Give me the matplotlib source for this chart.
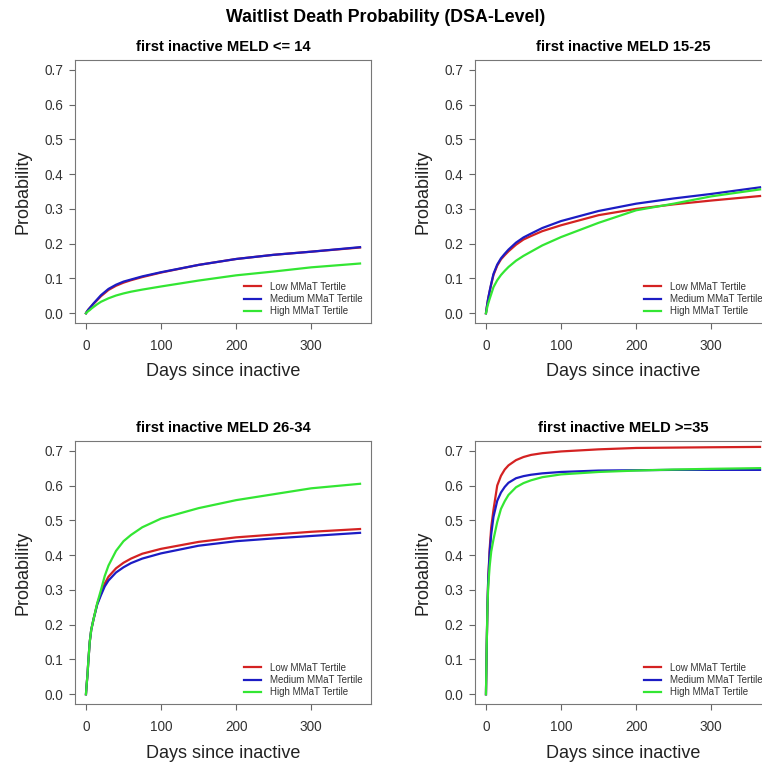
import numpy as np
import matplotlib
matplotlib.use('Agg')
import matplotlib.pyplot as plt

plt.rcParams['font.family'] = ['Liberation Sans', 'DejaVu Sans']

# --- dati (giorni, probabilità cumulata) ---
days = [0, 1, 2, 3, 5, 7, 10, 15, 20, 25, 30, 40, 50, 60, 75, 100, 150, 200, 250, 300, 365]

meld14_low  = [0, 0.004, 0.007, 0.010, 0.015, 0.020, 0.027, 0.038, 0.049, 0.058, 0.067, 0.079, 0.088, 0.095, 0.104, 0.117, 0.139, 0.156, 0.168, 0.177, 0.189]
meld14_med  = [0, 0.004, 0.007, 0.010, 0.015, 0.020, 0.028, 0.040, 0.052, 0.061, 0.070, 0.082, 0.091, 0.097, 0.106, 0.118, 0.139, 0.156, 0.168, 0.177, 0.190]
meld14_high = [0, 0.002, 0.004, 0.006, 0.009, 0.013, 0.018, 0.026, 0.033, 0.038, 0.043, 0.051, 0.057, 0.062, 0.068, 0.077, 0.094, 0.109, 0.120, 0.132, 0.143]

meld15_low  = [0, 0.016, 0.030, 0.043, 0.063, 0.083, 0.110, 0.137, 0.155, 0.167, 0.178, 0.197, 0.212, 0.222, 0.236, 0.253, 0.282, 0.300, 0.313, 0.324, 0.337]
meld15_med  = [0, 0.016, 0.030, 0.043, 0.065, 0.085, 0.113, 0.140, 0.158, 0.171, 0.183, 0.203, 0.218, 0.229, 0.245, 0.265, 0.294, 0.315, 0.330, 0.343, 0.362]
meld15_high = [0, 0.010, 0.020, 0.028, 0.042, 0.055, 0.075, 0.095, 0.110, 0.122, 0.133, 0.151, 0.165, 0.177, 0.195, 0.219, 0.260, 0.296, 0.315, 0.336, 0.356]

meld26_low  = [0, 0.030, 0.055, 0.090, 0.150, 0.185, 0.215, 0.260, 0.290, 0.318, 0.338, 0.362, 0.378, 0.390, 0.404, 0.418, 0.438, 0.451, 0.459, 0.467, 0.475]
meld26_med  = [0, 0.030, 0.055, 0.090, 0.150, 0.185, 0.215, 0.258, 0.285, 0.310, 0.327, 0.350, 0.365, 0.377, 0.390, 0.405, 0.427, 0.440, 0.448, 0.455, 0.464]
meld26_high = [0, 0.030, 0.055, 0.090, 0.150, 0.185, 0.215, 0.262, 0.300, 0.340, 0.370, 0.412, 0.440, 0.458, 0.480, 0.505, 0.535, 0.558, 0.575, 0.592, 0.605]

meld35_low  = [0, 0.14, 0.25, 0.33, 0.42, 0.48, 0.53, 0.600, 0.628, 0.646, 0.658, 0.673, 0.682, 0.688, 0.693, 0.698, 0.704, 0.708, 0.709, 0.710, 0.711]
meld35_med  = [0, 0.14, 0.26, 0.33, 0.41, 0.46, 0.51, 0.556, 0.580, 0.596, 0.608, 0.621, 0.627, 0.631, 0.635, 0.639, 0.643, 0.644, 0.645, 0.645, 0.645]
meld35_high = [0, 0.14, 0.25, 0.31, 0.37, 0.41, 0.445, 0.495, 0.533, 0.555, 0.573, 0.595, 0.607, 0.615, 0.624, 0.632, 0.639, 0.643, 0.646, 0.648, 0.650]

titoli = ['first inactive MELD <= 14', 'first inactive MELD 15-25',
          'first inactive MELD 26-34', 'first inactive MELD >=35']
serie = [(meld14_low, meld14_med, meld14_high),
         (meld15_low, meld15_med, meld15_high),
         (meld26_low, meld26_med, meld26_high),
         (meld35_low, meld35_med, meld35_high)]
etichette = ['Low MMaT Tertile', 'Medium MMaT Tertile', 'High MMaT Tertile']
colori = ['#d42222', '#1c1cc4', '#33e633']

# posizioni dei pannelli (in pixel), colonna destra tagliata come nell'originale
W, H = 762, 764
pos = [(75, 60), (475, 60), (75, 441), (475, 441)]
aw, ah = 296, 263

fig = plt.figure(figsize=(W / 100, H / 100), dpi=100)
fig.text(386 / W, 1 - 18 / H, 'Waitlist Death Probability (DSA-Level)',
         ha='center', va='center', fontsize=12.8, fontweight='bold')

for i, (titolo, (lo, me, hi)) in enumerate(zip(titoli, serie)):
    x0, y0 = pos[i]
    ax = fig.add_axes([x0 / W, 1 - (y0 + ah) / H, aw / W, ah / H])
    for vals, lab, c in zip((lo, me, hi), etichette, colori):
        ax.plot(days, vals, color=c, lw=1.6, label=lab)

    ax.set_xlim(-14.6, 379.6)
    ax.set_ylim(-0.028, 0.728)
    ax.set_xticks([0, 100, 200, 300])
    ax.set_yticks(np.arange(0, 0.75, 0.1))
    ax.set_yticklabels([f'{v:.1f}' for v in np.arange(0, 0.75, 0.1)])
    for s in ax.spines.values():
        s.set_color('#777777')
        s.set_linewidth(0.8)
    ax.tick_params(direction='out', length=4.2, width=0.8, color='#666666',
                   labelsize=9.8, labelcolor='#333333')
    ax.tick_params(axis='x', pad=7)
    ax.tick_params(axis='y', pad=4)

    ax.set_ylabel('Probability', fontsize=13, color='#222222', va='center')
    ax.yaxis.set_label_coords(-52 / aw, 0.5)
    ax.set_xlabel('Days since inactive', fontsize=13, color='#222222', va='center')
    ax.xaxis.set_label_coords(0.5, -49 / ah)
    ax.text(0.5, 1 + 13 / ah, titolo, transform=ax.transAxes, ha='center',
            va='center', fontsize=10.6, fontweight='bold')

    ax.legend(loc='lower right', bbox_to_anchor=(0.972, 0.025), frameon=False,
              fontsize=7, handlelength=1.8, handletextpad=0.9, labelspacing=0.25,
              borderpad=0, borderaxespad=0, labelcolor='#333333')

plt.savefig('out.png', dpi=100)
